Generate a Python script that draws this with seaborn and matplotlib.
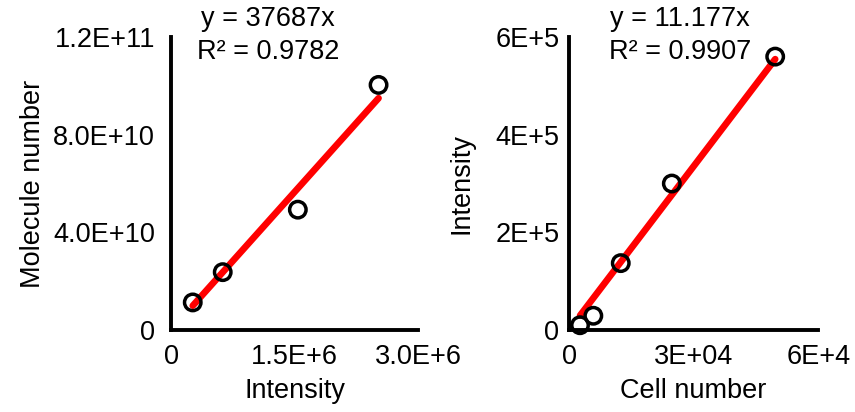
import numpy as np
import pandas as pd
import seaborn as sns
import matplotlib.pyplot as plt

# left panel: molecule number vs intensity
intensity_a = [0.264e6, 0.628e6, 1.54e6, 2.52e6]
molecules = [1.13e10, 2.37e10, 4.93e10, 1.004e11]
slope_a = 37687
r2_a = 0.9782

# right panel: intensity vs cell number
cells = [2650, 5860, 12460, 24750, 49640]
intensity_b = [9800, 29200, 137000, 300000, 560000]
slope_b = 11.177
r2_b = 0.9907

sns.set_style("white")
plt.rcParams['font.family'] = ['Liberation Sans', 'DejaVu Sans']
plt.rcParams['font.size'] = 19.5
plt.rcParams['text.color'] = 'black'
plt.rcParams['axes.labelcolor'] = 'black'

fig = plt.figure(figsize=(8.55, 4.12), dpi=100)
ax1 = fig.add_axes([0.2, 0.199, 0.289, 0.711])
ax2 = fig.add_axes([0.6655, 0.199, 0.2915, 0.711])


def panel(ax, x, y, slope, r2, xlabel, ylabel, xticks, xticklabels, yticks, yticklabels,
          ypad, ylabelpad, text_x):
    xs = np.array([min(x), max(x)])
    fit = pd.DataFrame({"x": xs, "y": slope * xs})
    sns.lineplot(data=fit, x="x", y="y", ax=ax, color="#ff0000", linewidth=4.8, zorder=2)
    pts = pd.DataFrame({"x": x, "y": y})
    sns.scatterplot(data=pts, x="x", y="y", ax=ax, s=140, facecolor="none",
                    edgecolor="black", linewidth=2.5, zorder=3, clip_on=False)
    ax.set_xlim(xticks[0], xticks[-1])
    ax.set_ylim(yticks[0], yticks[-1])
    ax.set_xticks(xticks, xticklabels)
    ax.set_yticks(yticks, yticklabels)
    ax.set_xlabel(xlabel, labelpad=6)
    ax.set_ylabel(ylabel, labelpad=ylabelpad)
    for s in ["top", "right"]:
        ax.spines[s].set_visible(False)
    for s in ["left", "bottom"]:
        ax.spines[s].set_linewidth(2.8)
        ax.spines[s].set_color("black")
    ax.tick_params(axis="both", direction="in", length=4.5, width=2.5, colors="black")
    ax.tick_params(axis="y", pad=ypad)
    ax.tick_params(axis="x", pad=10)
    ax.text(text_x, 1.005, f"y = {slope}x\nR\u00b2 = {r2}", transform=ax.transAxes,
            ha="center", va="center", linespacing=1.35)


panel(ax1, intensity_a, molecules, slope_a, r2_a, "Intensity", "Molecule number",
      [0, 1.5e6, 3.0e6], ["0", "1.5E+6", "3.0E+6"],
      [0, 4e10, 8e10, 1.2e11], ["0", "4.0E+10", "8.0E+10", "1.2E+11"],
      11.5, 5, 0.393)
panel(ax2, cells, intensity_b, slope_b, r2_b, "Cell number", "Intensity",
      [0, 3e4, 6e4], ["0", "3E+04", "6E+4"],
      [0, 2e5, 4e5, 6e5], ["0", "2E+5", "4E+5", "6E+5"],
      7, 15, 0.446)

fig.savefig("out.png", dpi=100)
